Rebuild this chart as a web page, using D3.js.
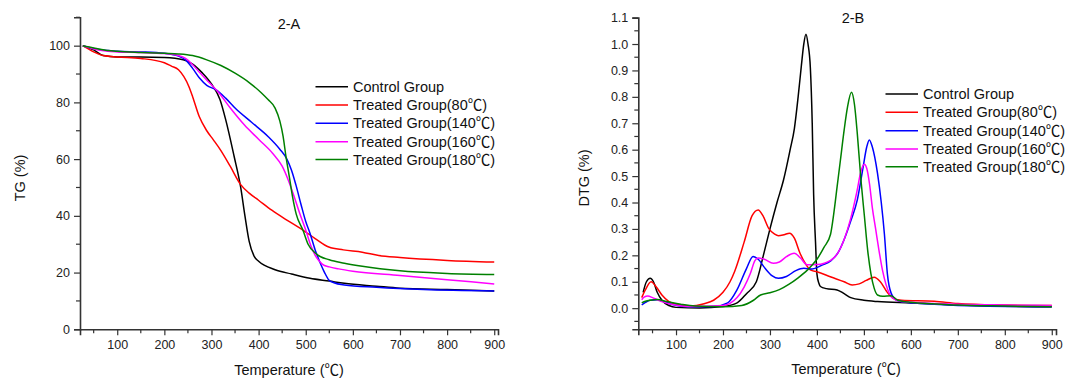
<!DOCTYPE html>
<html><head><meta charset="utf-8">
<script src="https://cdn.jsdelivr.net/npm/d3@7"></script>
<style>
body{margin:0;background:#fff;}
svg{display:block;font-family:Arial,"Liberation Sans","Noto Sans CJK SC",sans-serif;}
</style></head>
<body><svg id="c" width="1069" height="379"></svg>
<script>
const seriesNames = ["Control Group","Treated Group(80\u2103)","Treated Group(140\u2103)","Treated Group(160\u2103)","Treated Group(180\u2103)"];
const colors = ["#000000","#ff0000","#0000ff","#ff00ff","#008000"];

// TG (%) curves: [temperature, value]
const tgControl = [[27,100],[50,98.5],[70,96.5],[100,96],[150,96],[200,95.8],[240,95],[260,93.5],[280,90.5],[300,86.5],[318,81],[330,74],[348,61],[362,50],[371,40],[380,31],[391,25.6],[400,24],[435,21],[470,19.5],[509,18],[550,17],[582,16.2],[650,15.2],[700,14.5],[800,14],[900,13.5]];
const tg80 = [[27,100],[50,97.8],[70,96.5],[100,96],[150,95.5],[200,94],[215,92.8],[230,91.5],[252,85.6],[260,82],[274,75],[290,70],[304,66.8],[320,63],[340,57.4],[362,51],[380,48],[400,45.5],[428,42],[460,38.5],[494,35],[520,32],[549,29],[580,28],[620,27.2],[655,26],[700,25.3],[800,24.3],[900,23.7]];
const tg140 = [[27,100],[50,99],[80,98.3],[100,98],[150,97.8],[200,97.3],[230,96.3],[245,95],[260,92],[275,88.5],[290,86],[310,84.4],[330,81.5],[350,78],[385,73],[420,68],[445,63.5],[460,60],[470,56],[479,51],[490,44],[500,38],[509,33.9],[520,28],[531,23.3],[540,20],[549,17.4],[560,16.4],[582,15.6],[650,14.8],[750,14],[900,13.5]];
const tg160 = [[27,100],[50,98.8],[80,98],[100,97.8],[150,97.6],[200,97.2],[230,96.5],[245,95.5],[260,93.3],[275,90.5],[295,87],[315,83.5],[340,78],[370,72],[400,67],[430,62],[450,57.5],[462,53],[475,47],[487,41],[500,35],[512,29],[522,25.5],[535,23],[550,22],[570,21.3],[600,20.5],[700,19],[800,17.5],[900,16]];
const tg180 = [[27,100],[50,99.2],[80,98.3],[100,98],[150,97.6],[200,97.3],[230,97.1],[260,96.5],[290,95],[320,93],[350,90.3],[380,87],[405,83.5],[420,81],[435,78],[445,73.5],[452,68],[458,61],[465,54],[472,46.8],[480,40.5],[494,35],[505,30],[523,26.5],[550,24.5],[582,23.3],[620,22.2],[700,20.6],[800,19.7],[900,19.3]];

// DTG (%) curves: [temperature, value]
const dtgControl = [[30,0.06],[37,0.1],[45,0.113],[52,0.1],[60,0.06],[70,0.03],[85,0.01],[100,0.003],[150,0.001],[200,0.006],[230,0.02],[250,0.055],[271,0.1],[286,0.2],[300,0.3],[315,0.4],[329,0.486],[343,0.6],[352,0.68],[360,0.8],[367,0.92],[372,1.0],[376.7,1.037],[381,1.0],[386,0.91],[390,0.7],[393,0.43],[397,0.25],[400,0.13],[404,0.095],[407.5,0.082],[420,0.074],[443,0.069],[458,0.055],[472,0.04],[500,0.03],[529,0.025],[600,0.02],[700,0.012],[800,0.007],[900,0.005]];
const dtg80 = [[27,0.04],[35,0.07],[47,0.1],[58,0.08],[70,0.05],[85,0.025],[100,0.015],[130,0.008],[160,0.017],[180,0.03],[200,0.06],[215,0.1],[225,0.14],[245,0.25],[262,0.35],[275,0.372],[285,0.35],[298,0.3],[310,0.28],[318,0.274],[330,0.278],[341.6,0.284],[352,0.265],[364,0.208],[375,0.17],[386,0.145],[400,0.138],[430,0.118],[458,0.1],[475,0.088],[490,0.092],[505,0.105],[522,0.117],[535,0.1],[551,0.057],[565,0.035],[580,0.03],[650,0.026],[700,0.018],[800,0.012],[900,0.01]];
const dtg140 = [[27,0.012],[35,0.022],[45,0.03],[60,0.032],[75,0.025],[90,0.015],[130,0.005],[180,0.006],[210,0.02],[230,0.07],[250,0.15],[264,0.196],[275,0.185],[290,0.15],[305,0.122],[318,0.113],[335,0.12],[355,0.142],[372,0.151],[390,0.148],[410,0.162],[430,0.18],[445,0.21],[458,0.26],[472,0.33],[486,0.41],[498,0.53],[506,0.61],[511.5,0.637],[518,0.61],[529,0.51],[537,0.4],[543.7,0.28],[550,0.13],[558,0.057],[570,0.03],[590,0.022],[650,0.015],[750,0.008],[900,0.005]];
const dtg160 = [[27,0.032],[32,0.042],[40,0.046],[50,0.04],[60,0.032],[75,0.022],[90,0.015],[130,0.006],[200,0.01],[230,0.04],[245,0.08],[258,0.13],[268,0.18],[275,0.19],[288,0.185],[307,0.17],[320,0.175],[335,0.195],[351.6,0.208],[365,0.19],[379,0.164],[400,0.165],[430,0.182],[445,0.21],[458,0.26],[472,0.34],[485,0.44],[494,0.52],[500.7,0.545],[506,0.53],[512,0.47],[518,0.38],[525,0.3],[532,0.22],[540,0.14],[547,0.09],[553,0.06],[560,0.04],[580,0.025],[700,0.015],[800,0.012],[900,0.01]];
const dtg180 = [[27,0.02],[35,0.026],[45,0.03],[60,0.033],[80,0.025],[110,0.015],[140,0.008],[200,0.005],[240,0.01],[265,0.03],[280,0.05],[300,0.058],[320,0.07],[340,0.09],[360,0.115],[380,0.145],[400,0.185],[415,0.23],[429,0.28],[436,0.36],[443,0.46],[450,0.56],[458,0.675],[465,0.76],[473.5,0.817],[480,0.77],[486,0.66],[494,0.48],[501,0.35],[508,0.22],[515,0.13],[522,0.075],[529,0.05],[540,0.045],[558,0.047],[572,0.03],[600,0.022],[700,0.012],[800,0.008],[900,0.005]];

const tgSeries = [tgControl, tg80, tg140, tg160, tg180];
const dtgSeries = [dtgControl, dtg80, dtg140, dtg160, dtg180];

const tgYTicks = [0,20,40,60,80,100];
const dtgYTicks = [0,0.1,0.2,0.3,0.4,0.5,0.6,0.7,0.8,0.9,1.0,1.1];
const xTicks = [100,200,300,400,500,600,700,800,900];

const svg = d3.select("#c");
const axisColor = "#333";
const FONT = "Arial, 'Liberation Sans', 'Noto Sans CJK SC', sans-serif";

function drawPanel(cfg){
  const g = svg.append("g");
  const x = d3.scaleLinear().domain(cfg.xDomain).range(cfg.xRange);
  const y = d3.scaleLinear().domain(cfg.yDomain).range(cfg.yRange);

  const xMinor = d3.range(50, 901, 100).filter(v => v >= cfg.xDomain[0]);
  const yMinor = cfg.yMinor;
  const xb = y.range()[0];
  const xl = x.range()[0];
  g.append("g").selectAll("line").data(xMinor).join("line")
    .attr("x1", d=>x(d)).attr("x2", d=>x(d)).attr("y1", xb).attr("y2", xb+4)
    .attr("stroke", axisColor).attr("stroke-width", 1.2);
  g.append("g").selectAll("line").data(yMinor).join("line")
    .attr("x1", xl-4).attr("x2", xl).attr("y1", d=>y(d)).attr("y2", d=>y(d))
    .attr("stroke", axisColor).attr("stroke-width", 1.2);

  const xa = g.append("g").attr("transform", `translate(0,${xb})`)
    .call(d3.axisBottom(x).tickValues(xTicks).tickSizeOuter(0).tickSize(6).tickPadding(5).tickFormat(d3.format("d")));
  const ya = g.append("g").attr("transform", `translate(${xl},0)`)
    .call(d3.axisLeft(y).tickValues(cfg.yTicks).tickSizeOuter(0).tickSize(6).tickPadding(4).tickFormat(cfg.yFormat));
  [xa, ya].forEach(a => {
    a.select(".domain").attr("stroke", axisColor).attr("stroke-width", 1.6);
    a.selectAll(".tick line").attr("stroke", axisColor).attr("stroke-width", 1.2);
    a.selectAll(".tick text").attr("fill", "#222").style("font-size", "12.5px").style("font-family", FONT);
  });

  const line = d3.line().x(d=>x(d[0])).y(d=>y(d[1])).curve(d3.curveMonotoneX);
  cfg.series.forEach((s,i) => {
    g.append("path").datum(s).attr("d", line).attr("fill","none")
      .attr("stroke", colors[i]).attr("stroke-width", 1.5);
  });

  g.append("text").attr("x", cfg.title[1]).attr("y", cfg.title[2]).attr("text-anchor","middle")
    .style("font-size","14.5px").attr("fill","#111").text(cfg.title[0]);
  g.append("text").attr("x", cfg.xLabel[0]).attr("y", cfg.xLabel[1]).attr("text-anchor","middle")
    .style("font-size","14.5px").attr("fill","#111").text("Temperature (\u2103)");
  g.append("text").attr("transform", `translate(${cfg.yLabelX},${178}) rotate(-90)`).attr("text-anchor","middle")
    .style("font-size","14.5px").attr("fill","#111").text(cfg.yLabel);

  const lg = g.append("g");
  seriesNames.forEach((n,i) => {
    const yy = cfg.legend.ys[i];
    lg.append("line").attr("x1", cfg.legend.x0).attr("x2", cfg.legend.x0+cfg.legend.len)
      .attr("y1", yy).attr("y2", yy).attr("stroke", colors[i]).attr("stroke-width", 1.6);
    lg.append("text").attr("x", cfg.legend.x0+cfg.legend.len+5).attr("y", yy).attr("dy","0.35em")
      .style("font-size","14.5px").attr("fill","#111").text(n);
  });
}

drawPanel({
  xDomain:[21,908], xRange:[80,498],
  yDomain:[0,110], yRange:[329.3,17.3],
  yTicks: tgYTicks, yMinor: [10,30,50,70,90,110], yFormat: d3.format("d"),
  series: tgSeries, title:["2-A",289,28.5], xLabel:[289,375], yLabel:"TG (%)", yLabelX:25,
  legend:{x0:315.5,len:32.5,ys:[86.7,105,123.3,141.7,159.5]}
});
drawPanel({
  xDomain:[19.7,909], xRange:[638.3,1056],
  yDomain:[-0.08,1.1], yRange:[329.3,17.6],
  yTicks: dtgYTicks, yMinor: d3.range(-0.05,1.1,0.1), yFormat: d3.format(".1f"),
  series: dtgSeries, title:["2-B",853,23], xLabel:[846,373.5], yLabel:"DTG (%)", yLabelX:589,
  legend:{x0:885.5,len:32.5,ys:[94,112.3,130.7,149,166.7]}
});
</script></body></html>
